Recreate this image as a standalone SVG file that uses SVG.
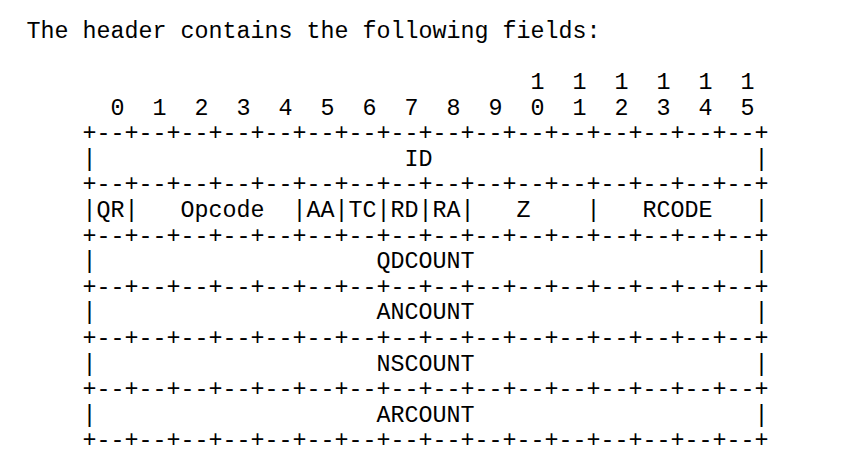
<svg xmlns="http://www.w3.org/2000/svg" width="852" height="472" viewBox="0 0 852 472">
<style>
text{font-family:"Liberation Mono","Courier New",monospace;font-size:23.33px;fill:#000;white-space:pre}
</style>
<rect width="852" height="472" fill="#fff"/>
<g id="heading">
<text x="26.5" y="37.8" xml:space="preserve">The header contains the following fields:</text>
</g>
<g id="bit-numbers">
<text x="26.5" y="89" xml:space="preserve">                                    1  1  1  1  1  1</text>
<text x="26.5" y="114.6" xml:space="preserve">      0  1  2  3  4  5  6  7  8  9  0  1  2  3  4  5</text>
</g>
<g id="header-table">
<text x="26.5" y="140.2" xml:space="preserve">    +--+--+--+--+--+--+--+--+--+--+--+--+--+--+--+--+</text>
<text x="26.5" y="165.8" xml:space="preserve">    |                      ID                       |</text>
<text x="26.5" y="191.4" xml:space="preserve">    +--+--+--+--+--+--+--+--+--+--+--+--+--+--+--+--+</text>
<text x="26.5" y="217" xml:space="preserve">    |QR|   Opcode  |AA|TC|RD|RA|   Z    |   RCODE   |</text>
<text x="26.5" y="242.6" xml:space="preserve">    +--+--+--+--+--+--+--+--+--+--+--+--+--+--+--+--+</text>
<text x="26.5" y="268.2" xml:space="preserve">    |                    QDCOUNT                    |</text>
<text x="26.5" y="293.8" xml:space="preserve">    +--+--+--+--+--+--+--+--+--+--+--+--+--+--+--+--+</text>
<text x="26.5" y="319.4" xml:space="preserve">    |                    ANCOUNT                    |</text>
<text x="26.5" y="345" xml:space="preserve">    +--+--+--+--+--+--+--+--+--+--+--+--+--+--+--+--+</text>
<text x="26.5" y="370.6" xml:space="preserve">    |                    NSCOUNT                    |</text>
<text x="26.5" y="396.2" xml:space="preserve">    +--+--+--+--+--+--+--+--+--+--+--+--+--+--+--+--+</text>
<text x="26.5" y="421.8" xml:space="preserve">    |                    ARCOUNT                    |</text>
<text x="26.5" y="447.4" xml:space="preserve">    +--+--+--+--+--+--+--+--+--+--+--+--+--+--+--+--+</text>
</g>
</svg>
